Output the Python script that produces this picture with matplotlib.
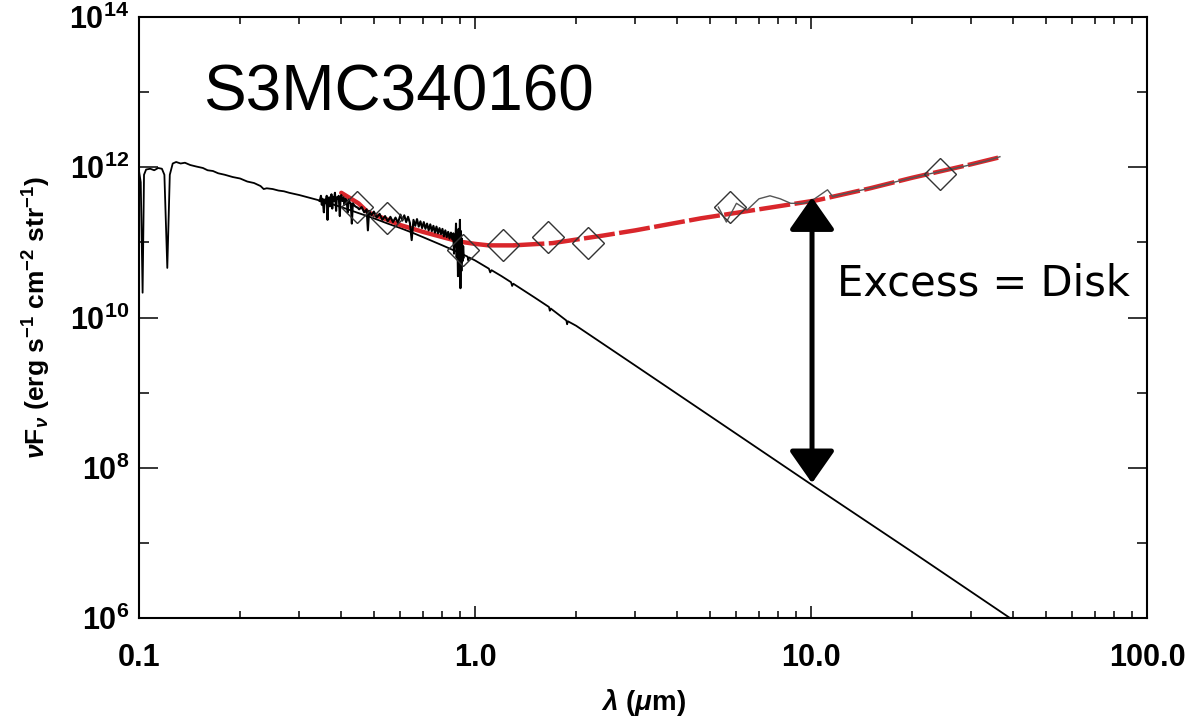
import numpy as np
import matplotlib
matplotlib.use("Agg")
import matplotlib.pyplot as plt
from matplotlib.patches import FancyArrowPatch

plt.rcParams['font.family'] = ['Liberation Sans', 'DejaVu Sans']
plt.rcParams['mathtext.fontset'] = 'custom'
plt.rcParams['mathtext.rm'] = 'Liberation Sans:bold'
plt.rcParams['mathtext.bf'] = 'Liberation Sans:bold'
plt.rcParams['mathtext.it'] = 'Liberation Sans:italic:bold'

# stellar model (wavelength in micron, log10 of nuFnu)
model_lam = [0.1000, 0.1012, 0.1025, 0.1035, 0.105, 0.108, 0.111, 0.114, 0.117, 0.119,
             0.1214, 0.1235, 0.126, 0.129, 0.133, 0.137, 0.142, 0.148, 0.155, 0.160,
             0.166, 0.172, 0.180, 0.190, 0.200, 0.210, 0.220, 0.230, 0.235, 0.240,
             0.250, 0.260, 0.270, 0.280, 0.300, 0.350, 0.400, 0.450, 0.500, 0.550,
             0.600, 0.650, 0.700, 0.800, 0.900, 0.950, 0.955, 0.960, 1.000, 1.100,
             1.110, 1.120, 1.200, 1.280, 1.290, 1.300, 1.500, 1.660, 1.670, 1.680,
             1.870, 1.880, 1.890, 2.000, 3.000, 5.000, 10.00, 20.00, 40.00, 45.00]
model_logf = [11.95, 11.80, 10.33, 11.90, 11.97, 11.98, 11.96, 11.99, 11.98, 11.90,
              10.66, 11.90, 12.05, 12.07, 12.05, 12.06, 12.03, 12.01, 11.99, 11.96,
              11.95, 11.92, 11.90, 11.87, 11.85, 11.81, 11.79, 11.75, 11.71, 11.72,
              11.71, 11.69, 11.68, 11.66, 11.63, 11.55, 11.47, 11.39, 11.32, 11.25,
              11.19, 11.13, 11.07, 10.96, 10.86, 10.81, 10.76, 10.80, 10.76, 10.65,
              10.60, 10.63, 10.55, 10.47, 10.42, 10.45, 10.27, 10.14, 10.09, 10.12,
              9.96, 9.91, 9.95, 9.89, 9.36, 8.69, 7.78, 6.88, 5.97, 5.82]

# optical spectrum (noisy)
opt_lam = [0.345, 0.348, 0.350, 0.352, 0.355, 0.357, 0.360, 0.362, 0.364, 0.366,
           0.368, 0.370, 0.372, 0.374, 0.376, 0.378, 0.380, 0.383, 0.386, 0.388,
           0.390, 0.393, 0.396, 0.398, 0.400, 0.403, 0.406, 0.409, 0.412, 0.415,
           0.418, 0.421, 0.424, 0.427, 0.430, 0.433, 0.436, 0.440, 0.444, 0.448,
           0.452, 0.460, 0.468, 0.476, 0.480, 0.484, 0.492, 0.500, 0.510, 0.520,
           0.530, 0.540, 0.550, 0.560, 0.570, 0.580, 0.590, 0.600, 0.608, 0.616,
           0.624, 0.632, 0.640, 0.648, 0.656, 0.664, 0.672, 0.680, 0.688, 0.696,
           0.704, 0.712, 0.720, 0.728, 0.736, 0.744, 0.752, 0.760, 0.768, 0.776,
           0.784, 0.792, 0.800, 0.808, 0.816, 0.824, 0.832, 0.840, 0.848, 0.856,
           0.862, 0.866, 0.870, 0.874, 0.878, 0.882, 0.886, 0.890, 0.894, 0.898,
           0.902, 0.905, 0.908, 0.911, 0.914, 0.918, 0.922, 0.926]
opt_logf = [11.55, 11.62, 11.50, 11.58, 11.40, 11.57, 11.52, 11.62, 11.30, 11.56,
            11.60, 11.48, 11.58, 11.64, 11.45, 11.60, 11.55, 11.66, 11.42, 11.60,
            11.58, 11.62, 11.35, 11.60, 11.63, 11.55, 11.60, 11.50, 11.58, 11.56,
            11.40, 11.57, 11.53, 11.52, 11.25, 11.52, 11.50, 11.48, 11.47, 11.46,
            11.44, 11.47, 11.40, 11.44, 11.16, 11.42, 11.36, 11.41, 11.33, 11.38,
            11.30, 11.35, 11.28, 11.34, 11.27, 11.33, 11.26, 11.37, 11.29, 11.36,
            11.27, 11.34, 11.26, 11.03, 11.30, 11.22, 11.31, 11.21, 11.28, 11.19,
            11.27, 11.18, 11.25, 11.16, 11.24, 11.15, 11.22, 11.13, 11.21, 11.12,
            11.19, 11.11, 11.18, 11.08, 11.16, 11.07, 11.14, 11.05, 11.13, 11.04,
            11.12, 10.85, 11.10, 10.95, 11.25, 10.80, 11.08, 10.55, 11.18, 10.70,
            11.30, 10.39, 11.15, 10.62, 11.05, 10.75, 10.95, 10.80]

# IRS spectrum
irs_lam = [5.3, 5.6, 6.0, 6.45, 7.0, 7.55, 8.1, 8.7, 9.5, 10.1, 11.2, 11.6,
           13.0, 15.7, 18.0, 20.5, 24.0, 29.0, 33.0, 36.5]
irs_logf = [11.47, 11.27, 11.52, 11.43, 11.58, 11.62, 11.58, 11.52, 11.52, 11.56,
            11.70, 11.61, 11.66, 11.74, 11.81, 11.87, 11.94, 12.02, 12.08, 12.14]

# disk + star fit
fit_lam = [0.40, 0.45, 0.48, 0.55, 0.60, 0.70, 0.80, 0.90, 1.00, 1.10, 1.30,
           1.70, 2.40, 3.00, 4.70, 7.00, 10.4, 15.0, 20.0, 30.0, 37.0]
fit_logf = [11.66, 11.52, 11.40, 11.30, 11.23, 11.14, 11.07, 11.01, 10.98, 10.96, 10.96,
            10.99, 11.09, 11.16, 11.32, 11.44, 11.56, 11.72, 11.86, 12.04, 12.14]

# photometry
phot_lam = [0.446, 0.547, 0.92, 1.21, 1.65, 2.17, 5.74, 24.2]
phot_logf = [11.47, 11.32, 10.90, 10.96, 11.07, 10.99, 11.47, 11.91]

fig = plt.figure(figsize=(11.91, 7.21), dpi=100)
ax = fig.add_axes([139/1191, 1 - 618/721, 1008/1191, 601/721])

ax.plot(model_lam, np.power(10, model_logf), color='black', lw=1.3, zorder=2)

fit_lam = np.array(fit_lam)
fit_f = np.power(10, fit_logf)
solid = fit_lam <= 1.3
ax.plot(fit_lam[solid], fit_f[solid], color='#d9262b', lw=3.2, zorder=3,
        solid_capstyle='round')
ax.plot(fit_lam[fit_lam >= 1.3], fit_f[fit_lam >= 1.3], color='#d9262b', lw=3.2,
        dashes=(7, 1), zorder=3)
ax.plot(opt_lam, np.power(10, opt_logf), color='black', lw=1.5, zorder=4)
ax.plot(irs_lam, np.power(10, irs_logf), color='#555555', lw=1.0, zorder=5)
ax.plot(phot_lam, np.power(10, phot_logf), linestyle='none', marker='D', ms=16,
        mfc='none', mec='#333333', mew=1.0, zorder=6)

arrow = FancyArrowPatch((10.07, 10**7.795), (10.07, 10**11.60),
                        arrowstyle='<|-|>,head_length=20,head_width=14',
                        mutation_scale=1, lw=3.6, color='black',
                        shrinkA=0, shrinkB=0, zorder=7)
ax.add_patch(arrow)

ax.text(0.0635, 0.845, 'S3MC340160', transform=ax.transAxes, fontsize=46,
        ha='left', va='baseline')
ax.text(0.6925, 0.537, 'Excess = Disk', transform=ax.transAxes, fontsize=30,
        family='DejaVu Sans', ha='left', va='baseline')

ax.set_xscale('log')
ax.set_yscale('log')
ax.set_xlim(0.1, 100)
ax.set_ylim(1e6, 1e14)

ax.set_xticks([0.1, 1, 10, 100], ['0.1', '1.0', '10.0', '100.0'])
ax.set_xticks([m * d for d in [0.1, 1, 10] for m in range(2, 10)], minor=True)
ax.set_xticklabels([], minor=True)
ax.set_yticks([1e6, 1e8, 1e10, 1e12, 1e14],
              [r'$10^{6}$', r'$10^{8}$', r'$10^{10}$', r'$10^{12}$', r'$10^{14}$'])
ax.set_yticks([1e7, 1e9, 1e11, 1e13], minor=True)
ax.set_yticklabels([], minor=True)

ax.tick_params(which='both', direction='in', top=True, right=True, width=1.1)
ax.tick_params(axis='x', which='major', length=8.6, pad=18, labelsize=22)
ax.tick_params(axis='x', which='minor', length=4.7)
ax.tick_params(axis='y', which='major', length=13.7, pad=7, labelsize=22)
ax.tick_params(axis='y', which='minor', length=7.2)
for lab in ax.get_xticklabels():
    lab.set_fontweight('bold')
for sp in ax.spines.values():
    sp.set_linewidth(1.5)

ax.set_xlabel(r'$\lambda$ ($\mu$m)', fontsize=20, fontweight='bold')
ax.xaxis.set_label_coords(0.5, -0.115)
ax.set_ylabel(r'$\nu$F$_\nu$ (erg s$^{-1}$ cm$^{-2}$ str$^{-1}$)', fontsize=19,
              fontweight='bold')
ax.yaxis.set_label_coords(-0.085, 0.5)

fig.savefig('out.png', dpi=100)
